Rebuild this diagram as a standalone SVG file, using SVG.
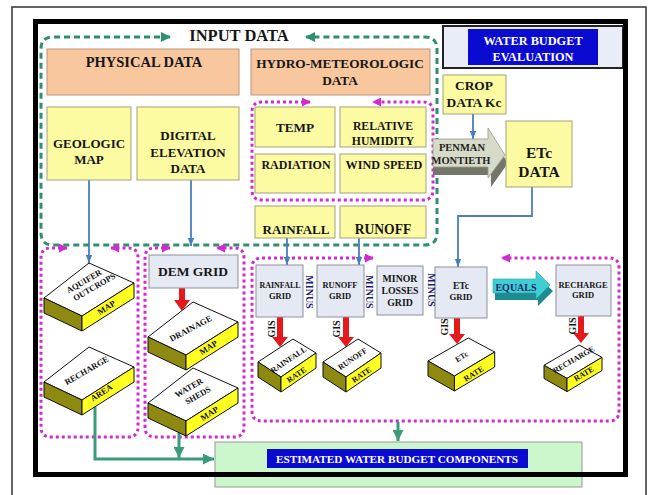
<svg xmlns="http://www.w3.org/2000/svg" width="649" height="495" viewBox="0 0 649 495">
<style>
  text { font-family: "Liberation Serif", "Times New Roman", serif; font-weight: bold; fill: #161616; text-anchor: middle; }
  .orange { fill: #f9c79d; stroke: #b89478; stroke-width: 1; }
  .yellow { fill: #fcfba2; stroke: #a3a17a; stroke-width: 1; }
  .grid { fill: #e5e9f4; stroke: #8d919c; stroke-width: 1; }
  .top { fill: #ffffff; stroke: #111; stroke-width: 1; vector-effect: non-scaling-stroke; stroke-linejoin: round; }
  .side { fill: #8e8910; stroke: #111; stroke-width: 1; vector-effect: non-scaling-stroke; stroke-linejoin: round; }
  .front { fill: #ffff22; stroke: #111; stroke-width: 1; vector-effect: non-scaling-stroke; stroke-linejoin: round; }
  .gdash { fill: none; stroke: #2f8f72; stroke-width: 3; stroke-dasharray: 6 4; }
  .mdot { fill: none; stroke: #d22ad2; stroke-width: 3; stroke-dasharray: 3 3; }
  .blue { fill: none; stroke: #4a7ebb; stroke-width: 1.8; }
  .gline { fill: none; stroke: #3b9a7a; stroke-width: 3; }
  .red { fill: #e5181b; }
  .minus { fill: #1d1d78; font-size: 10px; }
  .gis { font-size: 10px; }
  .slabtxt { font-size: 8.5px; fill: #111; }
  .ratetxt { font-size: 8px; fill: #111; }
</style>
<defs>
  <marker id="aGd" viewBox="0 0 10 10" refX="9" refY="5" markerWidth="11" markerHeight="10" markerUnits="userSpaceOnUse" orient="auto-start-reverse">
    <path d="M0,0 L10,5 L0,10 Z" fill="#2f8f72"/>
  </marker>
  <marker id="aM" viewBox="0 0 10 10" refX="9" refY="5" markerWidth="9" markerHeight="9" markerUnits="userSpaceOnUse" orient="auto-start-reverse">
    <path d="M0,0 L10,5 L0,10 Z" fill="#d22ad2"/>
  </marker>
  <marker id="aB" viewBox="0 0 10 10" refX="10" refY="5" markerWidth="8" markerHeight="8" markerUnits="userSpaceOnUse" orient="auto">
    <path d="M0,1 L10,5 L0,9 Z" fill="#4a7ebb"/>
  </marker>
  <marker id="aG" viewBox="0 0 10 10" refX="10" refY="5" markerWidth="11" markerHeight="11" markerUnits="userSpaceOnUse" orient="auto">
    <path d="M0,0 L10,5 L0,10 Z" fill="#3b9a7a"/>
  </marker>
  <!-- large isometric slab -->
  <g id="slabL">
    <polygon class="top" points="0,35 45,0 90,20 38,53"/>
    <polygon class="side" points="0,35 38,53 38,68 0,50"/>
    <polygon class="front" points="38,53 90,20 90,35 38,68"/>
  </g>
  <!-- small isometric slab -->
  <g id="slabS">
    <polygon class="top" points="0,23 35,0 58,14 23,38"/>
    <polygon class="side" points="0,23 23,38 23,53 0,38"/>
    <polygon class="front" points="23,38 58,14 58,29 23,53"/>
  </g>
</defs>

<rect x="0" y="0" width="649" height="495" fill="#ffffff"/>
<rect x="12" y="7" width="634" height="500" fill="none" stroke="#333" stroke-width="1.5"/>

<!-- title block -->
<g id="water-budget-title">
  <rect x="443" y="26" width="180" height="42" fill="#e9edf7" stroke="#222" stroke-width="2"/>
  <rect x="468" y="29" width="130" height="36" fill="#0a0ad0"/>
  <text x="533" y="45" font-size="12.3" style="fill:#fff">WATER BUDGET</text>
  <text x="533" y="61" font-size="12.3" style="fill:#fff">EVALUATION</text>
</g>

<!-- containers -->
<g id="containers">
  <path class="gdash" d="M170,37 H53 Q41,37 41,49 V233 Q41,245 53,245 H425 Q437,245 437,233 V49 Q437,37 425,37 H306" marker-start="url(#aGd)" marker-end="url(#aGd)"/>
  <path class="mdot" d="M310,102 H262 Q252,102 252,112 V190 Q252,200 262,200 H423 Q433,200 433,190 V112 Q433,102 423,102 H373" marker-start="url(#aM)" marker-end="url(#aM)"/>
  <path class="mdot" d="M67,248 H51 Q41,248 41,258 V427 Q41,437 51,437 H128 Q138,437 138,427 V258 Q138,248 128,248 H111" marker-start="url(#aM)" marker-end="url(#aM)"/>
  <path class="mdot" d="M170,248 H155 Q145,248 145,258 V427 Q145,437 155,437 H234 Q244,437 244,427 V258 Q244,248 234,248 H217" marker-start="url(#aM)" marker-end="url(#aM)"/>
  <path class="mdot" d="M373,258 H262 Q252,258 252,268 V411 Q252,421 262,421 H609 Q619,421 619,411 V268 Q619,258 609,258 H502" marker-start="url(#aM)" marker-end="url(#aM)"/>
</g>
<text x="239" y="41" font-size="16.5">INPUT DATA</text>

<!-- connectors -->
<g id="connectors">
  <path class="blue" d="M89,180 V263" marker-end="url(#aB)"/>
  <path class="blue" d="M191,180 V246" marker-end="url(#aB)"/>
  <path class="blue" d="M287,238 V265" marker-end="url(#aB)"/>
  <path class="blue" d="M359,238 V265" marker-end="url(#aB)"/>
  <path class="blue" d="M473,114 V139" marker-end="url(#aB)"/>
  <path class="blue" d="M532,187 V216 H458 V267" marker-end="url(#aB)"/>
  <path class="gline" d="M95,407 V459 H214" marker-end="url(#aG)"/>
  <path class="gline" d="M179,433 V458" marker-end="url(#aG)"/>
  <path class="gline" d="M398,422 V441" marker-end="url(#aG)"/>
  <path class="red" d="M179,288 H185 V300 H190 L182,311 L174,300 H179 Z"/>
  <path class="red" d="M277,317 H283 V337 H288 L280,347 L272,337 H277 Z"/>
  <path class="red" d="M343,317 H349 V337 H354 L346,347 L338,337 H343 Z"/>
  <path class="red" d="M454,318 H460 V334 H465 L457,344 L449,334 H454 Z"/>
  <path class="red" d="M578,316 H584 V333 H589 L581,343 L573,333 H578 Z"/>
</g>

<!-- input data nodes -->
<g id="physical-data">
  <rect class="orange" x="47" y="49" width="192" height="46"/>
  <text x="144" y="67" font-size="14.5">PHYSICAL DATA</text>
</g>
<g id="hydro-data">
  <rect class="orange" x="251" y="49" width="179" height="46"/>
  <text x="340" y="68" font-size="13.3">HYDRO-METEOROLOGIC</text>
  <text x="340" y="85" font-size="13.3">DATA</text>
</g>
<g id="geologic-map">
  <rect class="yellow" x="47" y="107" width="84" height="73"/>
  <text x="89" y="148" font-size="13">GEOLOGIC</text>
  <text x="89" y="164" font-size="13">MAP</text>
</g>
<g id="dem-data">
  <rect class="yellow" x="137" y="107" width="102" height="73"/>
  <text x="188" y="140" font-size="13">DIGITAL</text>
  <text x="188" y="157" font-size="13">ELEVATION</text>
  <text x="188" y="173" font-size="13">DATA</text>
</g>
<g id="temp">
  <rect class="yellow" x="255" y="107" width="80" height="40"/>
  <text x="295" y="132" font-size="13.2">TEMP</text>
</g>
<g id="humidity">
  <rect class="yellow" x="340" y="107" width="86" height="40"/>
  <text x="383" y="130" font-size="11.7">RELATIVE</text>
  <text x="383" y="145" font-size="11.7">HUMIDITY</text>
</g>
<g id="radiation">
  <rect class="yellow" x="255" y="154" width="80" height="39"/>
  <text x="296" y="169" font-size="12">RADIATION</text>
</g>
<g id="wind-speed">
  <rect class="yellow" x="340" y="154" width="86" height="39"/>
  <text x="384" y="169" font-size="12.2">WIND SPEED</text>
</g>
<g id="rainfall">
  <rect class="yellow" x="255" y="206" width="80" height="32"/>
  <text x="296" y="234" font-size="13">RAINFALL</text>
</g>
<g id="runoff">
  <rect class="yellow" x="340" y="206" width="86" height="32"/>
  <text x="383" y="234" font-size="13.6">RUNOFF</text>
</g>
<g id="crop-data">
  <rect class="yellow" x="443" y="75" width="63" height="39"/>
  <text x="474" y="90" font-size="13.4">CROP</text>
  <text x="474" y="107" font-size="13.4">DATA Kc</text>
</g>
<g id="penman-monteith">
  <path d="M433,147 H491 V137 L508,163 L491,187 V175 H433 Z" fill="#75766a"/>
  <path d="M433,139 H488 V128 L505,155 L488,178 V167 H433 Z" fill="#d6dac8" stroke="#9a9a8a" stroke-width="0.8"/>
  <text x="462" y="151" font-size="10.5" style="fill:#222">PENMAN</text>
  <text x="461" y="164" font-size="10.5" style="fill:#222">MONTIETH</text>
</g>
<g id="etc-data">
  <rect class="yellow" x="506" y="121" width="66" height="66"/>
  <text x="539" y="158" font-size="15.5">ETc</text>
  <text x="539" y="177" font-size="15.5">DATA</text>
</g>

<!-- physical data products -->
<g id="aquifer-outcrops">
  <use href="#slabL" transform="translate(44,263)"/>
  <text class="slabtxt" transform="translate(89,284) rotate(-30)"><tspan x="-3" y="-2">AQUIFER</tspan><tspan x="3" y="8">OUTCROPS</tspan></text>
  <text class="slabtxt" transform="translate(108,310) rotate(-32)">MAP</text>
</g>
<g id="recharge-area">
  <use href="#slabL" transform="translate(44,347)"/>
  <text class="slabtxt" transform="translate(88,373) rotate(-30)" font-size="9">RECHARGE</text>
  <text class="slabtxt" transform="translate(103,395) rotate(-32)">AREA</text>
</g>
<g id="dem-grid">
  <rect class="grid" x="149" y="255" width="89" height="33"/>
  <text x="193" y="276" font-size="13.5">DEM GRID</text>
</g>
<g id="drainage-map">
  <use href="#slabL" transform="translate(148,302)"/>
  <text class="slabtxt" transform="translate(192,331) rotate(-28)" font-size="8.8">DRAINAGE</text>
  <text class="slabtxt" transform="translate(210,350) rotate(-32)">MAP</text>
</g>
<g id="watersheds-map">
  <use href="#slabL" transform="translate(148,368)"/>
  <text class="slabtxt" transform="translate(193,391) rotate(-30)" font-size="9"><tspan x="-2" y="-2">WATER</tspan><tspan x="2" y="9">SHEDS</tspan></text>
  <text class="slabtxt" transform="translate(211,416) rotate(-32)">MAP</text>
</g>

<!-- grid nodes -->
<g id="rainfall-grid">
  <rect class="grid" x="256" y="265" width="47" height="52"/>
  <text x="280" y="288" font-size="8">RAINFALL</text>
  <text x="280" y="299" font-size="8.5">GRID</text>
</g>
<g id="runoff-grid">
  <rect class="grid" x="317" y="265" width="47" height="52"/>
  <text x="340" y="288" font-size="8.4">RUNOFF</text>
  <text x="340" y="299" font-size="8.5">GRID</text>
</g>
<g id="minor-losses-grid">
  <rect class="grid" x="377" y="266" width="46" height="49"/>
  <text x="400" y="282" font-size="9.8">MINOR</text>
  <text x="400" y="294" font-size="9.8">LOSSES</text>
  <text x="400" y="306" font-size="9.8">GRID</text>
</g>
<g id="etc-grid">
  <rect class="grid" x="435" y="267" width="52" height="51"/>
  <text x="461" y="289" font-size="9.6">ETc</text>
  <text x="461" y="300" font-size="8.8">GRID</text>
</g>
<g id="recharge-grid">
  <rect class="grid" x="556" y="265" width="55" height="51"/>
  <text x="583" y="288" font-size="8.5">RECHARGE</text>
  <text x="583" y="298" font-size="8.5">GRID</text>
</g>
<g id="operators">
  <text class="minus" transform="translate(305.5,292) rotate(90)">MINUS</text>
  <text class="minus" transform="translate(366,292) rotate(90)">MINUS</text>
  <text class="minus" transform="translate(428,290) rotate(90)">MINUS</text>
  <text class="gis" transform="translate(274.5,329) rotate(-90)">GIS</text>
  <text class="gis" transform="translate(339.5,329) rotate(-90)">GIS</text>
  <text class="gis" transform="translate(447.5,327) rotate(-90)">GIS</text>
  <text class="gis" transform="translate(575.5,326) rotate(-90)">GIS</text>
</g>
<g id="equals">
  <path d="M495,285 H538 V277 L553,291 L538,306 V300 H495 Z" fill="#1c8c90"/>
  <path d="M493,279 H536 V271 L550,285 L536,299 V293 H493 Z" fill="#3fcfd2" stroke="#2aa0a4" stroke-width="0.6"/>
  <text x="516" y="291" font-size="10" style="fill:#1b1b6a">EQUALS</text>
</g>

<!-- rate slabs -->
<g id="rainfall-rate">
  <use href="#slabS" transform="translate(258,339)"/>
  <text class="ratetxt" transform="translate(290,362) rotate(-34)">RAINFALL</text>
  <text class="ratetxt" transform="translate(298,377) rotate(-34)">RATE</text>
</g>
<g id="runoff-rate">
  <use href="#slabS" transform="translate(323,339)"/>
  <text class="ratetxt" transform="translate(354,361) rotate(-34)">RUNOFF</text>
  <text class="ratetxt" transform="translate(363,377) rotate(-34)">RATE</text>
</g>
<g id="etc-rate">
  <use href="#slabS" transform="translate(428,338) scale(1.15,1)"/>
  <text class="ratetxt" transform="translate(463,359) rotate(-32)">ETc</text>
  <text class="ratetxt" transform="translate(475,376) rotate(-32)">RATE</text>
</g>
<g id="recharge-rate">
  <use href="#slabS" transform="translate(544,345) scale(1,0.88)"/>
  <text class="ratetxt" transform="translate(575,362) rotate(-30)">RECHARGE</text>
  <text class="ratetxt" transform="translate(585,376) rotate(-30)">RATE</text>
</g>

<!-- result -->
<g id="estimated-components">
  <rect x="215" y="442" width="367" height="45" fill="#ccf6cc" stroke="#999" stroke-width="1"/>
  <rect x="267" y="449" width="261" height="19" fill="#0a0ad0"/>
  <text x="397" y="463" font-size="11.2" style="fill:#fff">ESTIMATED WATER BUDGET COMPONENTS</text>
</g>

<!-- heavy frame -->
<rect x="35.5" y="21.5" width="590" height="453" fill="none" stroke="#000" stroke-width="5"/>
</svg>
